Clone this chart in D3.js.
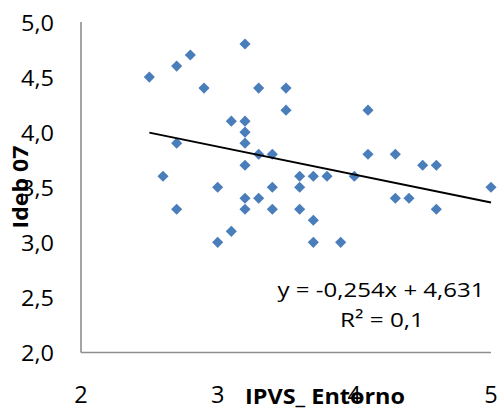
<!DOCTYPE html>
<html>
<head>
<meta charset="utf-8">
<script src="https://cdn.jsdelivr.net/npm/d3@7"></script>
<style>
  html, body { margin: 0; padding: 0; background: #fff; }
  svg { display: block; }
  text { font-family: "Open Sans", "DejaVu Sans", sans-serif; fill: #000; }
</style>
</head>
<body>
<svg id="chart" width="499" height="410"></svg>
<script>
// ---- data ----
const ipvsEntorno = [2.5, 2.6, 2.7, 2.7, 2.7, 2.8, 2.9, 3.0, 3.0, 3.1, 3.1, 3.2, 3.2, 3.2, 3.2, 3.2, 3.2, 3.2,
  3.3, 3.3, 3.3, 3.4, 3.4, 3.4, 3.5, 3.5, 3.6, 3.6, 3.6, 3.7, 3.7, 3.7, 3.8, 3.9, 4.0, 4.1, 4.1,
  4.3, 4.3, 4.4, 4.5, 4.6, 4.6, 5.0];
const ideb07 = [4.5, 3.6, 4.6, 3.9, 3.3, 4.7, 4.4, 3.5, 3.0, 4.1, 3.1, 4.8, 4.1, 4.0, 3.9, 3.7, 3.4, 3.3,
  4.4, 3.8, 3.4, 3.8, 3.5, 3.3, 4.4, 4.2, 3.6, 3.5, 3.3, 3.6, 3.2, 3.0, 3.6, 3.0, 3.6, 4.2, 3.8,
  3.8, 3.4, 3.4, 3.7, 3.7, 3.3, 3.5];
const trendSlope = -0.254;
const trendIntercept = 4.631;
const equationLabels = ["y = -0,254x + 4,631", "R² = 0,1"];
const xTickValues = [2, 3, 4, 5];
const yTickValues = [2.0, 2.5, 3.0, 3.5, 4.0, 4.5, 5.0];
const xTitle = "IPVS_ Entorno";
const yTitle = "Ideb 07";

// ---- layout ----
const svg = d3.select("#chart");
const plot = { left: 81, right: 491, top: 22, bottom: 352.5 };
const x = d3.scaleLinear().domain([2, 5]).range([plot.left, plot.right]);
const y = d3.scaleLinear().domain([2, 5]).range([plot.bottom, plot.top]);
const fmtComma = (d, p) => d3.format("." + p + "f")(d).replace(".", ",");

// helper: place text, optionally stretched horizontally to a target advance width
function placeText(str, tx, ty, opts) {
  const g = svg.append("g").attr("transform", `translate(${tx},${ty})` + (opts.rotate ? ` rotate(${opts.rotate})` : ""));
  const t = g.append("text")
    .attr("text-anchor", opts.anchor || "middle")
    .style("font-size", opts.size + "px")
    .style("font-weight", opts.weight || "normal")
    .text(str);
  if (opts.scale) t.attr("transform", `scale(${opts.scale},1)`);
  else if (opts.width) {
    const w = t.node().getComputedTextLength();
    t.attr("transform", `scale(${opts.width / w},1)`);
  }
  return t;
}

// axes lines
svg.append("line")
  .attr("x1", x(2)).attr("x2", x(2)).attr("y1", y(5)).attr("y2", y(2))
  .attr("stroke", "#8e8e8e").attr("stroke-width", 1.6);
svg.append("line")
  .attr("x1", x(2)).attr("x2", x(5)).attr("y1", y(2)).attr("y2", y(2))
  .attr("stroke", "#8e8e8e").attr("stroke-width", 1.6);

// y tick labels
const tmp = svg.append("text").style("font-size", "21px").text("5,0");
const yScaleFactor = 33 / tmp.node().getComputedTextLength();
tmp.remove();
yTickValues.forEach(v => {
  placeText(fmtComma(v, 1), 54, y(v) + 8.8, { anchor: "end", size: 21, scale: yScaleFactor });
});

// x tick labels
xTickValues.forEach(v => {
  placeText(String(v), x(v), 402.5, { anchor: "middle", size: 23.5 });
});

// points
const pts = ipvsEntorno.map((d, i) => ({ x: d, y: ideb07[i] }));
svg.append("g").selectAll("path").data(pts).join("path")
  .attr("d", d3.symbol(d3.symbolSquare, 62))
  .attr("transform", d => `translate(${x(d.x)},${y(d.y)}) rotate(45)`)
  .attr("fill", "#4a7ebb");

// trend line
const xMin = d3.min(ipvsEntorno), xMax = d3.max(ipvsEntorno);
svg.append("line")
  .attr("x1", x(xMin)).attr("y1", y(trendSlope * xMin + trendIntercept))
  .attr("x2", x(xMax)).attr("y2", y(trendSlope * xMax + trendIntercept))
  .attr("stroke", "#000").attr("stroke-width", 2);

// equation
placeText(equationLabels[0], 381, 297, { anchor: "middle", size: 20, width: 207 });
placeText(equationLabels[1], 382, 327, { anchor: "middle", size: 20, width: 84 });

// axis titles
placeText(xTitle, 325, 404, { anchor: "middle", size: 21, weight: "bold", width: 160 });
placeText(yTitle, 28, 187, { anchor: "middle", size: 21, weight: "bold", width: 83, rotate: -90 });
</script>
</body>
</html>
